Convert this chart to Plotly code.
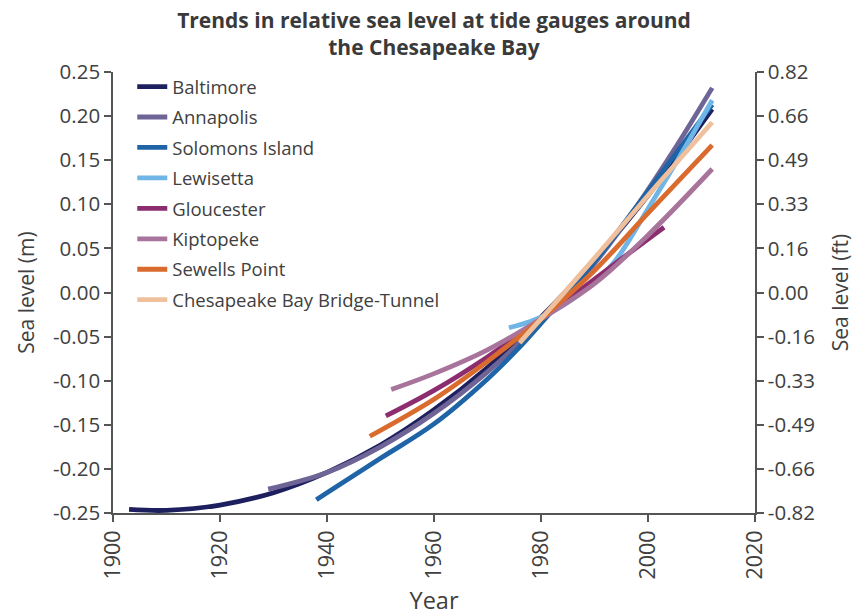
import plotly.graph_objects as go

# ---- data ----
baltimore_yr = [1903, 1910, 1920, 1930, 1940, 1950, 1960, 1970, 1980, 1990, 2000, 2012]
baltimore_m = [-0.246, -0.247, -0.241, -0.227, -0.204, -0.173, -0.133, -0.085, -0.028, 0.037, 0.110, 0.208]

annapolis_yr = [1929, 1940, 1950, 1960, 1970, 1980, 1990, 1997, 2005, 2012]
annapolis_m = [-0.223, -0.204, -0.175, -0.137, -0.090, -0.033, 0.033, 0.090, 0.163, 0.232]

solomons_yr = [1938, 1940, 1950, 1960, 1970, 1976, 1980, 1990, 2000, 2012]
solomons_m = [-0.235, -0.227, -0.188, -0.149, -0.098, -0.062, -0.035, 0.035, 0.115, 0.213]

lewisetta_yr = [1974, 1978, 1982, 1986, 1990, 1994, 2000, 2006, 2012]
lewisetta_m = [-0.040, -0.033, -0.022, -0.007, 0.012, 0.037, 0.095, 0.155, 0.218]

gloucester_yr = [1951, 1960, 1970, 1980, 1990, 1995, 2003]
gloucester_m = [-0.140, -0.111, -0.073, -0.030, 0.015, 0.038, 0.074]

kiptopeke_yr = [1952, 1960, 1970, 1980, 1990, 2000, 2012]
kiptopeke_m = [-0.110, -0.092, -0.065, -0.030, 0.010, 0.065, 0.140]

sewells_yr = [1948, 1960, 1970, 1980, 1990, 2000, 2012]
sewells_m = [-0.163, -0.121, -0.078, -0.030, 0.025, 0.090, 0.167]

cbbt_yr = [1976, 1980, 1990, 2000, 2012]
cbbt_m = [-0.057, -0.030, 0.039, 0.110, 0.193]

y_ticks_m = [-0.25, -0.20, -0.15, -0.10, -0.05, 0.00, 0.05, 0.10, 0.15, 0.20, 0.25]
y_labels_m = ["-0.25", "-0.20", "-0.15", "-0.10", "-0.05", "0.00", "0.05", "0.10", "0.15", "0.20", "0.25"]
y_labels_ft = ["-0.82", "-0.66", "-0.49", "-0.33", "-0.16", "0.00", "0.16", "0.33", "0.49", "0.66", "0.82"]
x_ticks = [1900, 1920, 1940, 1960, 1980, 2000, 2020]

series = [
    ("Baltimore", baltimore_yr, baltimore_m, "#1d1f5e"),
    ("Annapolis", annapolis_yr, annapolis_m, "#6f6496"),
    ("Solomons Island", solomons_yr, solomons_m, "#1f64a6"),
    ("Lewisetta", lewisetta_yr, lewisetta_m, "#6fb6e6"),
    ("Gloucester", gloucester_yr, gloucester_m, "#8c2d6f"),
    ("Kiptopeke", kiptopeke_yr, kiptopeke_m, "#a8749b"),
    ("Sewells Point", sewells_yr, sewells_m, "#d96b2e"),
    ("Chesapeake Bay Bridge-Tunnel", cbbt_yr, cbbt_m, "#f0c09c"),
]

fig = go.Figure()
for i, (name, xs, ys, col) in enumerate(series):
    fig.add_trace(go.Scatter(
        x=xs, y=ys, name=name, mode="lines",
        line=dict(color=col, width=4.8, shape="spline", smoothing=1.0),
        legendgroup=f"g{i}",
    ))

# invisible trace to activate right axis
fig.add_trace(go.Scatter(x=[x_ticks[0]], y=[y_ticks_m[0]], yaxis="y2",
                         mode="markers", marker=dict(opacity=0),
                         showlegend=False, hoverinfo="skip"))

font_family = "Open Sans, Noto Sans, sans-serif"
axis_col = "#555555"
txt_col = "#404040"

fig.update_layout(
    width=855, height=608,
    margin=dict(l=105, r=108, t=64, b=103),
    paper_bgcolor="white", plot_bgcolor="white",
    font=dict(family=font_family, color=txt_col, size=18),
    title=dict(
        text="<b>Trends in relative sea level at tide gauges around<br>the Chesapeake Bay</b>",
        x=0.5, xanchor="center", xref="paper",
        y=0.967, yanchor="top",
        font=dict(size=21, color="#3a3a3a", family=font_family),
    ),
    showlegend=True,
    legend=dict(
        x=0.03, y=1.009, xanchor="left", yanchor="top",
        bgcolor="rgba(0,0,0,0)", font=dict(size=18.5, color=txt_col),
        tracegroupgap=3.4, traceorder="grouped",
    ),
    xaxis=dict(
        range=[1900, 2020], tickvals=x_ticks, tickangle=-90, automargin=False,
        showline=True, linecolor=axis_col, linewidth=1.5,
        ticks="outside", ticklen=7, tickcolor=axis_col, tickwidth=1.5,
        showgrid=False, zeroline=False,
        tickfont=dict(size=21.5, color=txt_col),
        title=dict(text="Year", font=dict(size=23.5, color=txt_col), standoff=14),
    ),
    yaxis=dict(
        range=[-0.25, 0.25], tickvals=y_ticks_m, ticktext=y_labels_m, automargin=False,
        showline=True, linecolor=axis_col, linewidth=1.5,
        ticks="outside", ticklen=7, tickcolor=axis_col, tickwidth=1.5,
        showgrid=False, zeroline=False,
        tickfont=dict(size=20.5, color=txt_col),
        title=dict(text="Sea level (m)", font=dict(size=21, color=txt_col), standoff=13),
    ),
    yaxis2=dict(
        overlaying="y", side="right", automargin=False,
        range=[-0.25, 0.25], tickvals=y_ticks_m, ticktext=y_labels_ft,
        showline=True, linecolor=axis_col, linewidth=1.5,
        ticks="outside", ticklen=7, tickcolor=axis_col, tickwidth=1.5,
        showgrid=False, zeroline=False,
        tickfont=dict(size=20.5, color=txt_col),
        title=dict(text="Sea level (ft)", font=dict(size=21, color=txt_col), standoff=19),
    ),
)

fig.write_html("out.html")
